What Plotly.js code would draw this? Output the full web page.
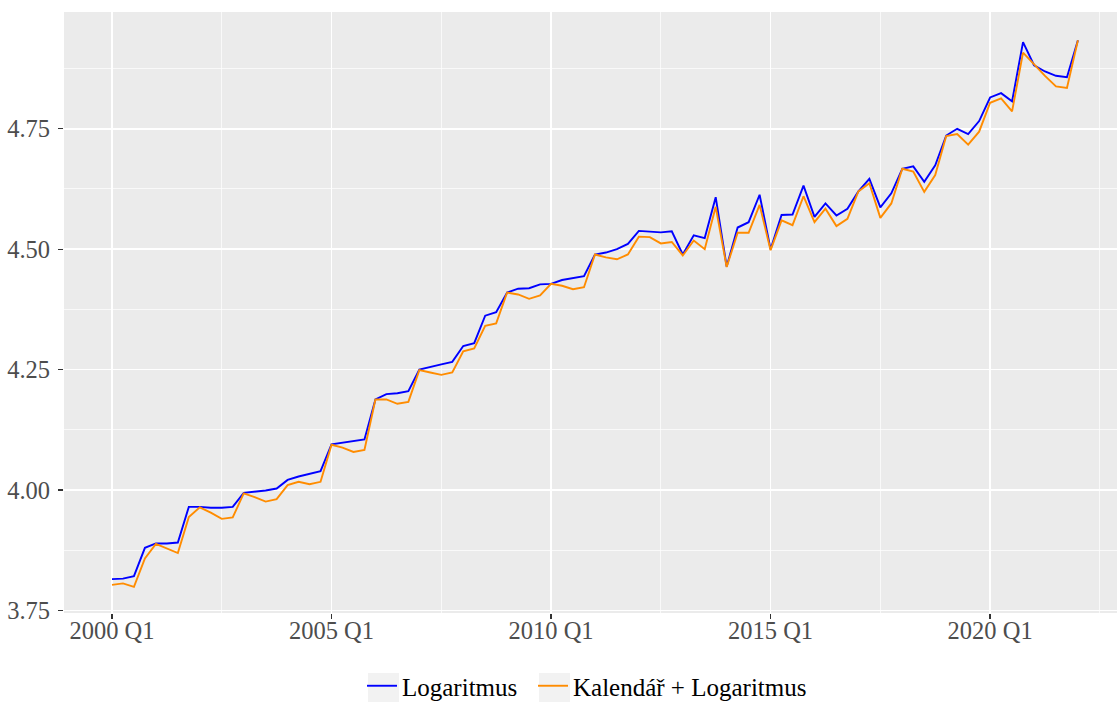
<!DOCTYPE html>
<html>
<head>
<meta charset="utf-8">
<script src="https://cdn.plot.ly/plotly-3.0.1.min.js"></script>
<style>html,body{margin:0;padding:0;background:#fff;}#chart{width:1117px;height:702px;}</style>
</head>
<body>
<div id="chart"></div>
<script>
const startYear = 2000;
const logaritmus = [
  3.815, 3.816, 3.821, 3.880, 3.889, 3.889, 3.891, 3.965, 3.965, 3.963, 3.963, 3.965, 3.994, 3.996, 3.999, 4.003, 4.021, 4.028, 4.034, 4.039, 4.095, 4.098, 4.102,
  4.105, 4.188, 4.199, 4.201, 4.205, 4.250, 4.256, 4.261, 4.266, 4.299, 4.305, 4.362, 4.369, 4.410, 4.418, 4.419, 4.427, 4.428, 4.436, 4.440, 4.444, 4.489, 4.493, 4.500,
  4.511, 4.538, 4.537, 4.535, 4.537, 4.489, 4.529, 4.523, 4.608, 4.464, 4.545, 4.556, 4.613, 4.500, 4.571, 4.572, 4.632, 4.567, 4.595, 4.570, 4.584, 4.620,
  4.646, 4.587, 4.616, 4.667, 4.672, 4.640, 4.674, 4.736, 4.750, 4.739, 4.766, 4.815, 4.824, 4.807, 4.930, 4.882, 4.869, 4.860, 4.857, 4.934
];
const kalendarLog = [
  3.803, 3.806, 3.799, 3.858, 3.888, 3.878, 3.869, 3.944, 3.964, 3.953, 3.940, 3.943, 3.993, 3.985, 3.976, 3.981, 4.010, 4.017, 4.012, 4.017, 4.094, 4.088, 4.079,
  4.083, 4.188, 4.188, 4.179, 4.183, 4.249, 4.244, 4.239, 4.244, 4.288, 4.294, 4.341, 4.346, 4.410, 4.406, 4.397, 4.404, 4.428, 4.424, 4.417, 4.421, 4.489, 4.483, 4.479,
  4.489, 4.526, 4.525, 4.512, 4.515, 4.487, 4.518, 4.500, 4.588, 4.463, 4.534, 4.534, 4.592, 4.498, 4.560, 4.550, 4.610, 4.556, 4.584, 4.548, 4.563, 4.620,
  4.637, 4.565, 4.595, 4.667, 4.661, 4.619, 4.654, 4.735, 4.739, 4.717, 4.744, 4.804, 4.813, 4.786, 4.908, 4.883, 4.860, 4.838, 4.835, 4.934
];
const seriesNames = ['Logaritmus', 'Kalendář + Logaritmus'];
const xTickVals = [2000, 2005, 2010, 2015, 2020];
const xTickText = ['2000 Q1', '2005 Q1', '2010 Q1', '2015 Q1', '2020 Q1'];
const xMinorVals = [2002.5, 2007.5, 2012.5, 2017.5, 2022.5];
const yTickVals = [3.75, 4.00, 4.25, 4.50, 4.75];
const yTickText = ['3.75', '4.00', '4.25', '4.50', '4.75'];
const yMinorVals = [3.875, 4.125, 4.375, 4.625, 4.875];

const quarters = logaritmus.map((_, i) => startYear + i / 4);

const traces = [
  {x: quarters, y: logaritmus, name: seriesNames[0], type: 'scatter', mode: 'lines',
   line: {color: '#0000FF', width: 1.9}, legend: 'legend'},
  {x: quarters, y: kalendarLog, name: seriesNames[1], type: 'scatter', mode: 'lines',
   line: {color: '#FF8C00', width: 1.9}, legend: 'legend2'}
];

const serif = '"Liberation Serif", "Times New Roman", serif';
const tickFont = {family: serif, size: 24.5, color: '#4d4d4d'};

// legend key backgrounds (grey95 boxes), positioned in paper coordinates
const plotL = 64, plotW = 1053, plotT = 12, plotH = 601;
const px2x = p => (p - plotL) / plotW;
const px2y = p => (plotT + plotH - p) / plotH;
const keyBoxes = [[368, 399], [539, 570]].map(([a, b]) => ({
  type: 'rect', xref: 'paper', yref: 'paper', layer: 'below',
  x0: px2x(a), x1: px2x(b), y0: px2y(673), y1: px2y(702),
  fillcolor: '#f2f2f2', line: {width: 0}
}));

const legendBase = {
  orientation: 'h', xref: 'container', yref: 'container', xanchor: 'left',
  y: (702 - 686) / 702, yanchor: 'middle',
  font: {family: serif, size: 25, color: '#000000'},
  bgcolor: 'rgba(0,0,0,0)'
};

const layout = {
  width: 1117, height: 702,
  margin: {l: 64, r: 0, t: 12, b: 89, autoexpand: false},
  paper_bgcolor: '#ffffff',
  plot_bgcolor: '#ebebeb',
  showlegend: true,
  legend: Object.assign({}, legendBase, {x: 362 / 1117}),
  legend2: Object.assign({}, legendBase, {x: 533 / 1117}),
  shapes: keyBoxes,
  xaxis: {
    range: [1998.907, 2022.89], tickmode: 'array', tickvals: xTickVals, ticktext: xTickText,
    showgrid: true, gridcolor: '#ffffff', gridwidth: 1.5, zeroline: false, showline: false,
    ticks: 'outside', ticklen: 5, tickwidth: 1.3, tickcolor: '#333333', tickfont: tickFont,
    ticklabelstandoff: -9, automargin: false,
    minor: {tickmode: 'array', tickvals: xMinorVals, showgrid: true, gridcolor: '#ffffff', gridwidth: 0.7, ticks: ''}
  },
  yaxis: {
    range: [3.7446, 4.9925], tickmode: 'array', tickvals: yTickVals, ticktext: yTickText,
    showgrid: true, gridcolor: '#ffffff', gridwidth: 1.5, zeroline: false, showline: false,
    ticks: 'outside', ticklen: 5, tickwidth: 1.3, tickcolor: '#333333', tickfont: tickFont,
    ticklabelstandoff: 3, automargin: false,
    minor: {tickmode: 'array', tickvals: yMinorVals, showgrid: true, gridcolor: '#ffffff', gridwidth: 0.7, ticks: ''}
  }
};

Plotly.newPlot('chart', traces, layout, {staticPlot: true, displayModeBar: false});
</script>
</body>
</html>
